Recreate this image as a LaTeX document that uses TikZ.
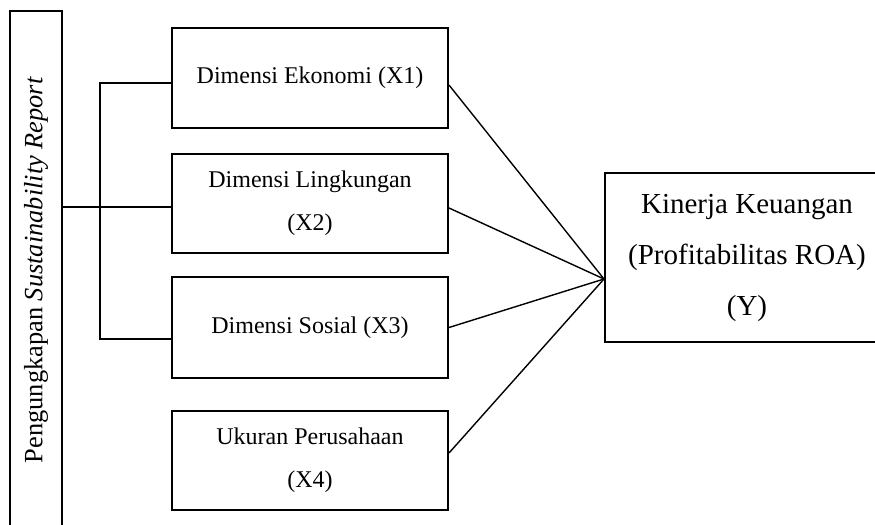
\documentclass[tikz,border=0pt]{standalone}
\usepackage{fontspec}
\setmainfont{Liberation Serif}

\tikzset{
    kotak/.style={draw, line width=1pt, minimum width=138pt, minimum height=50pt,
        align=center, font=\fontsize{12}{21.5}\selectfont},
    garis/.style={line width=0.7pt}
}

\begin{document}
\begin{tikzpicture}[x=0.5pt, y=-0.5pt]
    % Batas gambar
    \path[use as bounding box, clip] (0,0) rectangle (875,525);

    % Kotak variabel
    \node[kotak, rotate=90, minimum width=259pt, minimum height=26pt,
        font=\fontsize{13.2}{16}\selectfont] (pengungkapan) at (36,270)
        {Pengungkapan \textit{Sustainability Report}};
    \node[kotak] (ekonomi) at (310,78) {Dimensi Ekonomi (X1)};
    \node[kotak, minimum height=49.5pt] (lingkungan) at (310,203.5) {Dimensi Lingkungan\\(X2)};
    \node[kotak, minimum height=50.5pt] (sosial) at (310,327.5) {Dimensi Sosial (X3)};
    \node[kotak, minimum height=49.5pt] (ukuran) at (310,460.5) {Ukuran Perusahaan\\(X4)};
    \node[kotak, minimum width=142pt, minimum height=84.5pt,
        font=\fontsize{14.5}{25.5}\selectfont] (kinerja) at (747,257.5)
        {Kinerja Keuangan\\(Profitabilitas ROA)\\(Y)};

    % Kurung cabang
    \coordinate (cabang1) at (100,83);
    \coordinate (cabang2) at (100,207);
    \coordinate (cabang3) at (100,339);
    \draw[garis] (pengungkapan.south |- cabang2) -- (lingkungan.west |- cabang2);
    \draw[garis] (ekonomi.west |- cabang1) -- (cabang1) -- (cabang3) -- (sosial.west |- cabang3);

    % Garis ke Y
    \coordinate (temu) at ([yshift=-10.75pt]kinerja.west);
    \draw[garis] ([yshift=-3.5pt]ekonomi.east) -- (temu);
    \draw[garis] ([yshift=-2.25pt]lingkungan.east) -- (temu);
    \draw[garis] (sosial.east) -- (temu);
    \draw[garis] ([yshift=3.75pt]ukuran.east) -- (temu);
\end{tikzpicture}
\end{document}
